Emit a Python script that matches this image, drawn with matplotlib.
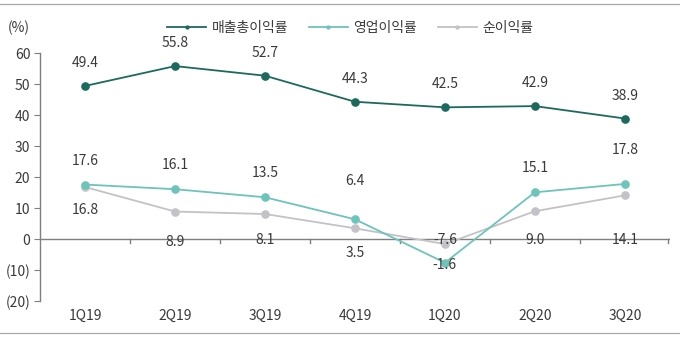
import matplotlib
matplotlib.use("Agg")
import matplotlib.pyplot as plt
import numpy as np

plt.rcParams["font.family"] = ["Noto Sans CJK KR", "DejaVu Sans"]

quarters = ["1Q19", "2Q19", "3Q19", "4Q19", "1Q20", "2Q20", "3Q20"]
gross_margin = [49.4, 55.8, 52.7, 44.3, 42.5, 42.9, 38.9]
op_margin = [17.6, 16.1, 13.5, 6.4, -7.6, 15.1, 17.8]
net_margin = [16.8, 8.9, 8.1, 3.5, -1.6, 9.0, 14.1]

yticks = [60, 50, 40, 30, 20, 10, 0, -10, -20]

C_GROSS = "#1c6a5d"
C_OP = "#6cc4bb"
C_NET = "#c3c2c7"
AXIS = "#7f7f7f"
TXT = "#3a3a3a"
FS = 10

fig = plt.figure(figsize=(6.8, 3.38), dpi=100)
ax = fig.add_axes([0.059, 0.109, 0.926, 0.734])
x = np.arange(len(quarters))

# thin rules at top and bottom of the figure
for yy in (0.988, 0.015):
    fig.add_artist(plt.Line2D([0, 1], [yy, yy], color="#a8a8a8", lw=0.9,
                              transform=fig.transFigure))

series = [
    ("매출총이익률", gross_margin, C_GROSS),
    ("영업이익률", op_margin, C_OP),
    ("순이익률", net_margin, C_NET),
]
for name, vals, col in series:
    ax.plot(x, vals, color=col, lw=1.3, marker="o", ms=5.2, label=name,
            zorder=3 if col != C_NET else 2)

# value labels: gross/operating above, net below (pixel offsets)
gross_off = [23] * 7
op_off = [24, 24, 24, 38, 23, 24, 34]
net_off = [-23, -30, -26, -25, -21, -29, -45]
for vals, offs in [(gross_margin, gross_off), (op_margin, op_off), (net_margin, net_off)]:
    for xi, v, o in zip(x, vals, offs):
        ax.annotate(f"{v:.1f}", (xi, v), xytext=(0, o), textcoords="offset pixels",
                    ha="center", va="center", fontsize=FS, color=TXT)

ax.set_xlim(-0.5, len(quarters) - 0.5)
ax.set_ylim(-20, 60)
ax.set_yticks(yticks)
ax.set_yticklabels([f"({-t})" if t < 0 else str(t) for t in yticks])
ax.set_xticks([])

for s in ["top", "right", "bottom"]:
    ax.spines[s].set_visible(False)
ax.spines["left"].set_color(AXIS)
ax.spines["left"].set_linewidth(1.0)
ax.tick_params(axis="y", direction="out", length=4, color=AXIS, labelsize=FS,
               labelcolor=TXT, pad=3)

# zero line with category separators
ax.axhline(0, color=AXIS, lw=1.0, zorder=1)
for b in list(x[:-1] + 0.5) + [x[-1] + 0.48]:
    ax.plot([b, b], [0, -1.3], color=AXIS, lw=1.0, zorder=1, clip_on=False)

for xi, q in zip(x, quarters):
    ax.text(xi, -22.5, q, ha="center", va="top", fontsize=FS, color=TXT)

fig.text(0.012, 0.918, "(%)", fontsize=FS, color=TXT, ha="left", va="center")

fig.legend(loc="center", bbox_to_anchor=(0.515, 0.918), ncol=3, frameon=False,
           fontsize=FS, handlelength=2.8, columnspacing=1.5, handletextpad=0.4,
           markerscale=0.4, labelcolor=TXT)

fig.savefig("out.png", dpi=100)
